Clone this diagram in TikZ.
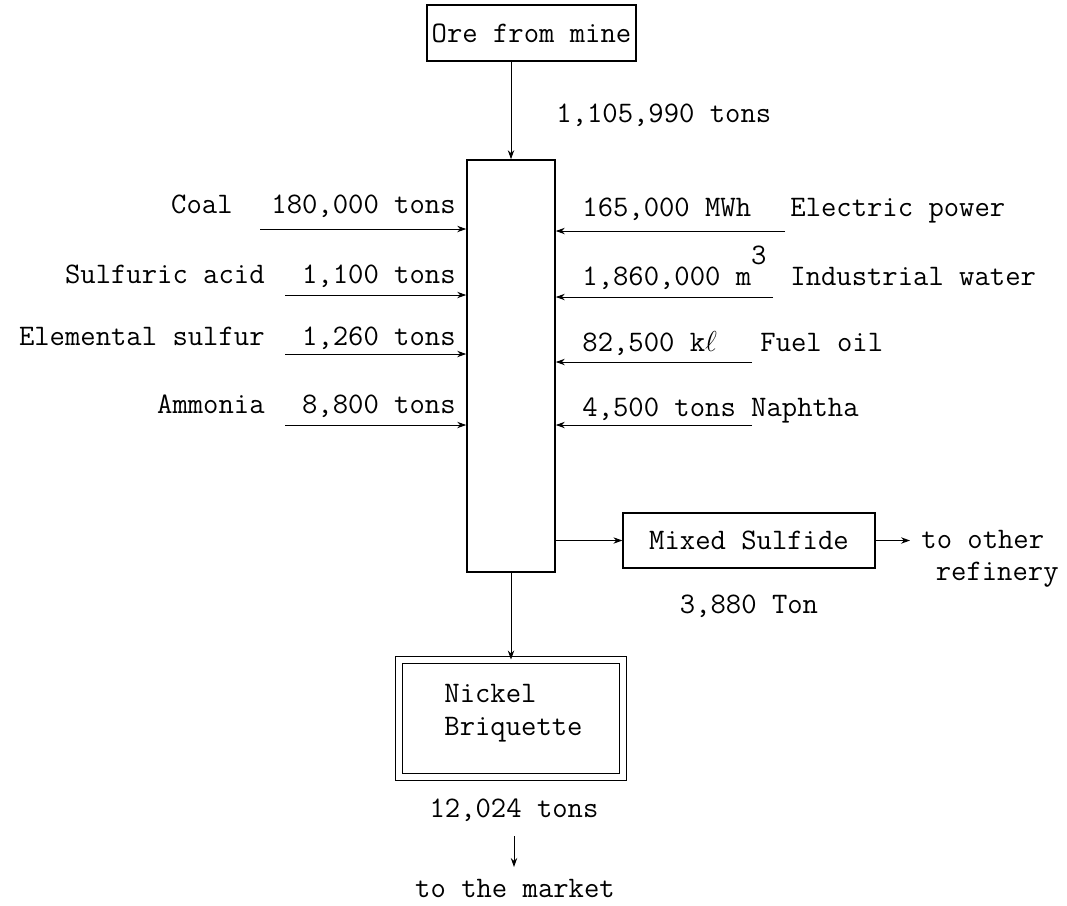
\documentclass[tikz,border=0pt]{standalone}
\usetikzlibrary{arrows.meta}
\begin{document}
\begin{tikzpicture}[x=0.5pt,y=-0.5pt,
  txt/.style={font=\ttfamily\fontsize{14.9}{16.5}\selectfont, inner sep=0pt},
  box/.style={draw, line width=0.6pt, inner sep=0pt},
  arr/.style={line width=0.5pt, -{Stealth[length=4.5pt,width=3.2pt]}}]
\useasboundingbox (0,0) rectangle (1067,906);
% boxes
\node[box, txt, minimum width=104.5pt, minimum height=28pt] (ore) at (531.5,33) {Ore from mine};
\node[box, line width=0.8pt, minimum width=44pt, minimum height=206pt] (col) at (511,366) {};
\node[box, txt, minimum width=126pt, minimum height=27.5pt] (ms) at (749,540.5) {Mixed Sulfide};
\node[draw, double, double distance=3pt, line width=0.5pt, minimum width=112pt, minimum height=58.5pt, inner sep=0pt] (nb) at (511,718.5) {};
\node[txt, align=left] (nbt) at (513.5,713) {Nickel\\Briquette};
% ore arrow
\draw[arr] (ore.south -| col.north) -- (col.north);
\node[txt, anchor=west] (q0) at (556,115) {1,105,990 tons};
% left inputs
\coordinate (l1) at (260,229);
\coordinate (l2) at (285,295);
\coordinate (l3) at (285,354);
\coordinate (l4) at (285,425);
\foreach \c in {l1,l2,l3,l4} \draw[arr] (\c) -- (\c -| col.west);
\node[txt, anchor=base east] (n1) at (233,213) {Coal};
\node[txt, anchor=base east] (v1) at (456,213) {180,000 tons};
\node[txt, anchor=base east] (n2) at (265,283) {Sulfuric acid};
\node[txt, anchor=base east] (v2) at (456,283) {1,100 tons};
\node[txt, anchor=base east] (n3) at (265,345) {Elemental sulfur};
\node[txt, anchor=base east] (v3) at (456,345) {1,260 tons};
\node[txt, anchor=base east] (n4) at (265,413) {Ammonia};
\node[txt, anchor=base east] (v4) at (456,413) {8,800 tons};
% right inputs
\coordinate (r1) at (785,231);
\coordinate (r2) at (773,297);
\coordinate (r3) at (752,362);
\coordinate (r4) at (752,425);
\foreach \c in {r1,r2,r3,r4} \draw[arr] (\c) -- (\c -| col.east);
\node[txt, anchor=base west] (w1) at (582,216) {165,000 MWh};
\node[txt, anchor=base west] (e1) at (790,216) {Electric power};
\node[txt, anchor=base west] (w2) at (582,285) {1,860,000 m\raisebox{0.7em}{3}};
\node[txt, anchor=base west] (e2) at (790,285) {Industrial water};
\node[txt, anchor=base west] (w3) at (582,351) {82,500 k$\ell$};
\node[txt, anchor=base west] (e3) at (760,351) {Fuel oil};
\node[txt, anchor=base west] (w4) at (582,416) {4,500 tons Naphtha};
% mixed sulfide
\draw[arr] (col.east |- ms.west) -- (ms.west);
\coordinate (ms2) at (910,540.5);
\draw[arr] (ms.east) -- (ms2);
\node[txt, anchor=base west] (to1) at (921,548) {to other};
\node[txt, anchor=base east] (to2) at (1059,580) {refinery};
\node[txt] (q1) at (749,606) {3,880 Ton};
% nickel
\draw[arr] (col.south) -- (nb.north -| col.south);
\node[txt] (q2) at (514,810) {12,024 tons};
\coordinate (m1) at (514,836);
\coordinate (m2) at (514,867);
\draw[arr] (m1) -- (m2);
\node[txt] (mkt) at (515,888) {to the market};
\end{tikzpicture}
\end{document}
